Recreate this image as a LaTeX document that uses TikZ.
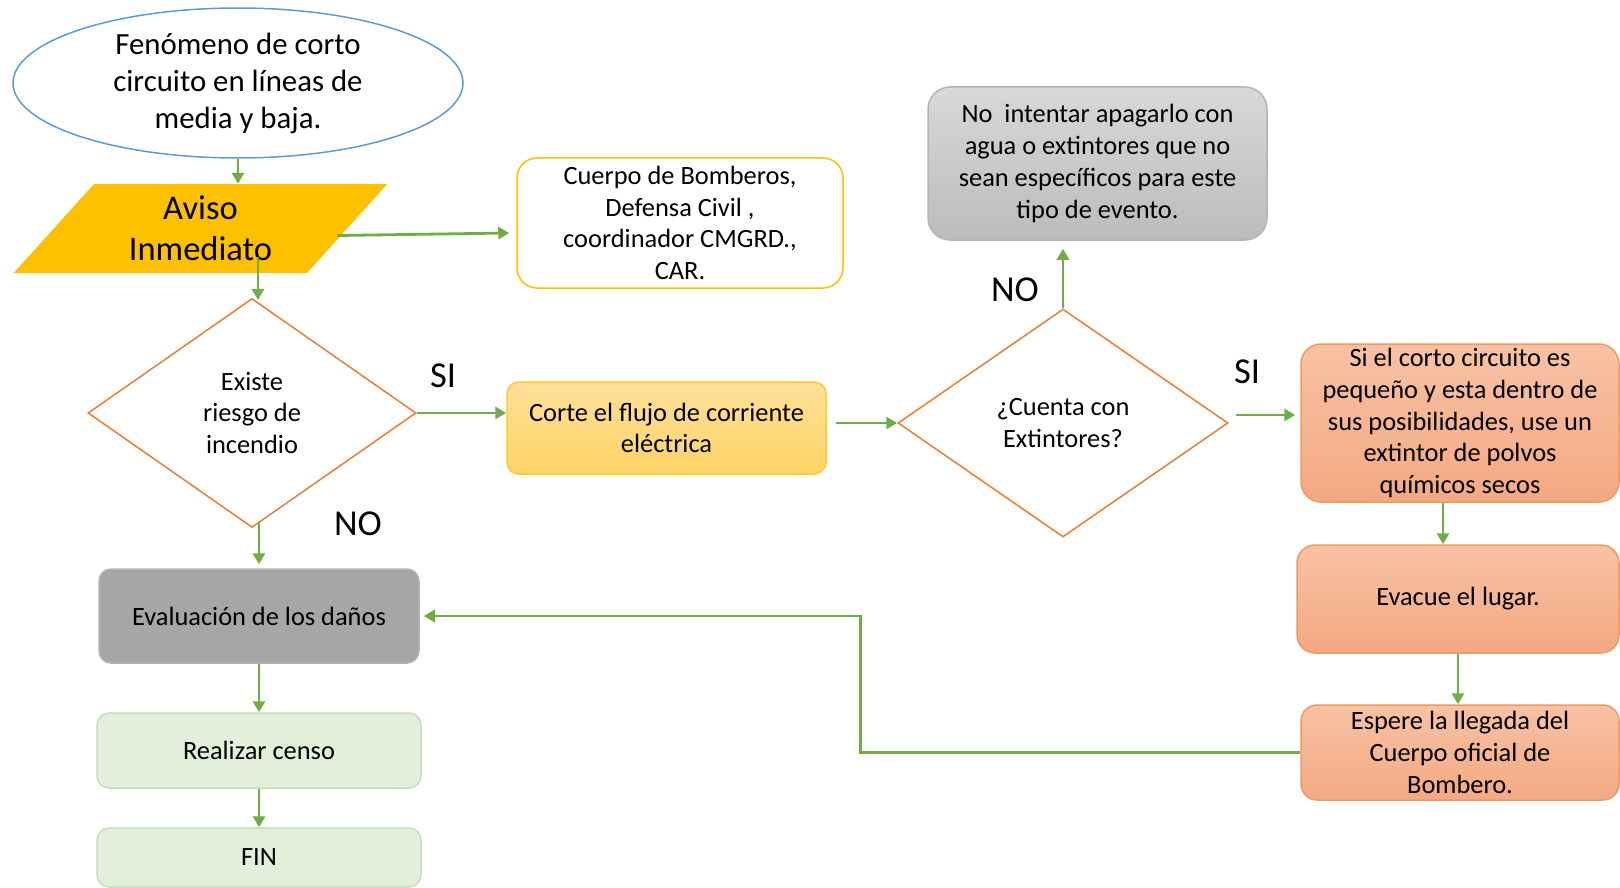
\documentclass[tikz,border=0pt]{standalone}
\usepackage{fontspec}
\setmainfont{Carlito}
\usetikzlibrary{shapes.geometric,arrows.meta}
\definecolor{cblue}{HTML}{5B9BD5}
\definecolor{cgreen}{HTML}{70AD47}
\definecolor{corange}{HTML}{ED7D31}
\definecolor{cgold}{HTML}{FFC000}
\definecolor{cgoldlt}{HTML}{FFCA2C}
\definecolor{cortetop}{HTML}{FFE09A}
\definecolor{cortebot}{HTML}{FFD466}
\definecolor{graytop}{HTML}{D8D8D8}
\definecolor{graybot}{HTML}{BCBCBC}
\definecolor{grayedge}{HTML}{B5B5B5}
\definecolor{evalgray}{HTML}{A6A6A6}
\definecolor{salmontop}{HTML}{F7C2A4}
\definecolor{salmonbot}{HTML}{F4A982}
\definecolor{salmonedge}{HTML}{F09A60}
\definecolor{greenfill}{HTML}{E2EFDA}
\definecolor{greenedge}{HTML}{C5E0B4}
\begin{document}
\begin{tikzpicture}[x=1pt,y=-1pt,
  txt/.style={font=\fontsize{26.4}{31.7}\selectfont, align=center, text=black},
  box/.style={txt, inner sep=0pt, line width=1.5pt},
  dec/.style={txt, diamond, draw=corange, line width=1.5pt, inner sep=0pt, aspect=1.43},
  lbl/.style={font=\fontsize{36.5}{40}\selectfont},
  conn/.style={draw=cgreen, line width=2.8pt, -{Triangle[length=11pt,width=12pt]}}
]
\useasboundingbox (0,0) rectangle (1620,888);

% nodes
\node[ellipse, draw=cblue, line width=1.5pt, minimum width=450, minimum height=150, inner sep=0pt,
      font=\fontsize{30.8}{37}\selectfont, align=center] (start) at (238,83)
      {Fenómeno de corto\\circuito en líneas de\\media y baja.};

\node[trapezium, trapezium left angle=50.3, trapezium right angle=129.7, trapezium stretches=true,
      minimum width=375, minimum height=89, inner sep=0pt, fill=cgold,
      font=\fontsize{34.5}{41}\selectfont, align=center] (aviso) at (200.5,228.5)
      {Aviso\\Inmediato};

\node[box, draw=cgold, fill=white, rounded corners=20, minimum width=326, minimum height=130]
      (cuerpo) at (680,223) {Cuerpo de Bomberos,\\Defensa Civil ,\\coordinador CMGRD.,\\CAR.};

\node[box, draw=grayedge, top color=graytop, bottom color=graybot, rounded corners=22,
      minimum width=339, minimum height=153] (nobox) at (1097.5,163.5)
      {No\ \ intentar apagarlo con\\agua o extintores que no\\sean específicos para este\\tipo de evento.};

\node[dec, minimum width=328, minimum height=229] (d1) at (252,413) {Existe\\riesgo de\\incendio};

\node[box, draw=cgoldlt, top color=cortetop, bottom color=cortebot, rounded corners=12,
      minimum width=319, minimum height=92] (corte) at (666.5,428)
      {Corte el flujo de corriente\\eléctrica};

\node[dec, minimum width=330, minimum height=228] (d2) at (1063,423) {¿Cuenta con\\Extintores?};

\node[box, draw=salmonedge, top color=salmontop, bottom color=salmonbot, rounded corners=20,
      minimum width=318, minimum height=158] (sibox) at (1460,423)
      {Si el corto circuito es\\pequeño y esta dentro de\\sus posibilidades, use un\\extintor de polvos\\químicos secos};

\node[box, draw=salmonedge, top color=salmontop, bottom color=salmonbot, rounded corners=18,
      minimum width=322, minimum height=108] (evacue) at (1458,599) {Evacue el lugar.};

\node[box, draw=salmonedge, top color=salmontop, bottom color=salmonbot, rounded corners=16,
      minimum width=318, minimum height=95] (espere) at (1460,752.5)
      {Espere la llegada del\\Cuerpo oficial de\\Bombero.};

\node[box, draw=evalgray!85!white, fill=evalgray, rounded corners=12,
      minimum width=320, minimum height=94] (eval) at (259,616) {Evaluación de los daños};

\node[box, draw=greenedge, fill=greenfill, rounded corners=12,
      minimum width=324, minimum height=75] (censo) at (259,750.5) {Realizar censo};

\node[box, draw=greenedge, fill=greenfill, rounded corners=12,
      minimum width=324, minimum height=59] (fin) at (259,857.5) {FIN};

% labels
\node[lbl] (si1) at (443,376) {SI};
\node[lbl] (no1) at (358,524) {NO};
\node[lbl] (si2) at (1247,372) {SI};
\node[lbl] (no2) at (1015,290) {NO};

% connectors
\coordinate (a2) at (258,257);
\coordinate (a3) at (259,522);
\draw[conn] (start.south) -- (start.south |- aviso.north);
\draw[conn] ([xshift=-10pt,yshift=-7pt]aviso.east) -- ([xshift=-7pt,yshift=-10pt]cuerpo.west);
\draw[conn] (a2) -- (258,300);
\draw[conn] (d1.east) -- (corte.west |- d1.east);
\draw[conn] ([xshift=9pt,yshift=5pt]corte.east) -- (d2.west);
\draw[conn] (d2.north) -- ([yshift=-8pt]d2.north |- nobox.south);
\draw[conn] ([xshift=7pt,yshift=8pt]d2.east) -- ([xshift=-5pt,yshift=8pt]sibox.west);
\draw[conn] ([xshift=-17pt]sibox.south) -- ([xshift=-17pt]sibox.south |- evacue.north);
\draw[conn] (evacue.south) -- (evacue.south |- espere.north);
\draw[conn] (espere.west) -- ++(-440,0) |- ([xshift=4pt]eval.east);
\draw[conn] (a3) -- ([yshift=4pt]eval.north);
\draw[conn] (eval.south) -- (censo.north);
\draw[conn] (censo.south) -- (fin.north);
\end{tikzpicture}
\end{document}
